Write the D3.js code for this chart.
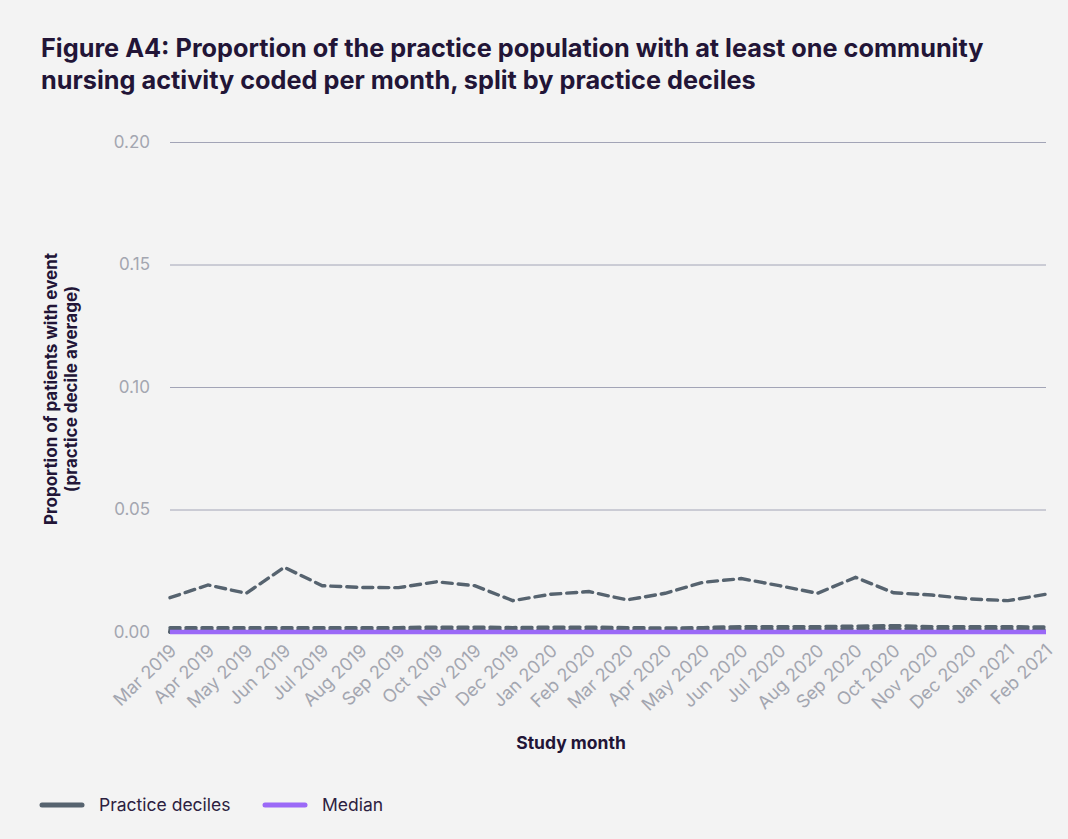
<!DOCTYPE html>
<html>
<head>
<meta charset="utf-8">
<script src="https://cdn.jsdelivr.net/npm/d3@7"></script>
<style>
  html, body { margin: 0; padding: 0; background: #f3f3f3; }
  svg { display: block; }
</style>
</head>
<body>
<svg id="chart" width="1068" height="839"></svg>
<script>
const months = ["Mar 2019","Apr 2019","May 2019","Jun 2019","Jul 2019","Aug 2019","Sep 2019","Oct 2019","Nov 2019","Dec 2019","Jan 2020","Feb 2020","Mar 2020","Apr 2020","May 2020","Jun 2020","Jul 2020","Aug 2020","Sep 2020","Oct 2020","Nov 2020","Dec 2020","Jan 2021","Feb 2021"];
const yTicks = [0, 0.05, 0.10, 0.15, 0.20];
const p90 = [0.0140,0.0192,0.0158,0.0264,0.0189,0.0182,0.0181,0.0205,0.0189,0.0128,0.0154,0.0165,0.0131,0.0158,0.0203,0.0218,0.0189,0.0158,0.0223,0.0160,0.0151,0.0135,0.0128,0.0154];
const p80 = [0.0018,0.0018,0.0018,0.0018,0.0018,0.0018,0.0018,0.0020,0.0020,0.0018,0.0020,0.0020,0.0018,0.0016,0.0018,0.0022,0.0022,0.0022,0.0024,0.0026,0.0022,0.0022,0.0022,0.0020];
const p70 = [0.0010,0.0010,0.0010,0.0010,0.0010,0.0010,0.0010,0.0010,0.0010,0.0010,0.0010,0.0010,0.0010,0.0008,0.0010,0.0012,0.0012,0.0012,0.0014,0.0014,0.0012,0.0012,0.0012,0.0010];
const p60 = [0.0004,0.0004,0.0004,0.0004,0.0004,0.0004,0.0004,0.0004,0.0004,0.0004,0.0004,0.0004,0.0004,0.0004,0.0004,0.0004,0.0004,0.0004,0.0004,0.0004,0.0004,0.0004,0.0004,0.0004];
const pLow = [0,0,0,0,0,0,0,0,0,0,0,0,0,0,0,0,0,0,0,0,0,0,0,0];
const median = [0,0,0,0,0,0,0,0,0,0,0,0,0,0,0,0,0,0,0,0,0,0,0,0];
const deciles = [pLow, pLow, pLow, pLow, p60, p70, p80, p90];
const titleLines = ["Figure A4: Proportion of the practice population with at least one community",
                    "nursing activity coded per month, split by practice deciles"];

const svg = d3.select("#chart");
const mLeft = 170, mRight = 1046, mTop = 142, mBottom = 632;
const x = d3.scalePoint().domain(months).range([mLeft, mRight]);
const y = d3.scaleLinear().domain([0, 0.20]).range([mBottom, mTop]);

const titleColor = "#221537";
const tickColor = "#a3a6b0";

// Title (font size fitted so the first line spans the reference width)
const tg = svg.append("g").attr("font-family", "Inter, sans-serif").attr("font-weight", 700)
  .attr("fill", titleColor);
const t1 = tg.append("text").attr("x", 41).attr("y", 57).attr("font-size", 22).text(titleLines[0]);
const w = t1.node().getComputedTextLength();
const fs = Math.min(26, 22 * 943 / w);
t1.attr("font-size", fs);
tg.append("text").attr("x", 41).attr("y", 89).attr("font-size", fs).text(titleLines[1]);

// Y axis grid + labels
const yAxis = d3.axisLeft(y).tickValues(yTicks).tickFormat(d3.format(".2f"))
  .tickSize(-(mRight - mLeft)).tickPadding(20);
const gy = svg.append("g").attr("transform", `translate(${mLeft},0)`).call(yAxis);
gy.select(".domain").remove();
gy.selectAll(".tick line").attr("stroke", "#a2a4b6").attr("stroke-width", 1);
gy.selectAll(".tick text").attr("font-family", "Inter, sans-serif")
  .attr("font-size", 17).attr("fill", tickColor);

// X axis labels
const xAxis = d3.axisBottom(x).tickSize(0).tickPadding(0);
const gx = svg.append("g").attr("transform", `translate(0,${mBottom})`).call(xAxis);
gx.select(".domain").remove();
gx.selectAll(".tick text")
  .attr("font-family", "Inter, sans-serif").attr("font-size", 18).attr("fill", tickColor)
  .attr("text-anchor", "end").attr("dy", 0)
  .attr("transform", "translate(7,20) rotate(-44)");

// Axis titles
const yt = svg.append("text")
  .attr("transform", `translate(57,389) rotate(-90)`)
  .attr("text-anchor", "middle")
  .attr("font-family", "Inter, sans-serif").attr("font-weight", 700)
  .attr("font-size", 17).attr("fill", titleColor);
yt.append("tspan").attr("x", 0).attr("dy", 0).text("Proportion of patients with event");
yt.append("tspan").attr("x", 0).attr("dy", 20).text("(practice decile average)");

svg.append("text").attr("x", 571).attr("y", 749).attr("text-anchor", "middle")
  .attr("font-family", "Inter, sans-serif").attr("font-weight", 700)
  .attr("font-size", 17.5).attr("fill", titleColor).text("Study month");

// Lines
const line = d3.line().x((d, i) => x(months[i])).y(d => y(d));
const decileColor = "#56636f";
const medianColor = "#9b69f7";

svg.append("g").selectAll("path").data(deciles).join("path")
  .attr("d", d => line(d)).attr("fill", "none")
  .attr("stroke", decileColor).attr("stroke-width", 3.4)
  .attr("stroke-dasharray", "10,6").attr("stroke-linecap", "round");

svg.append("path").attr("d", line(median)).attr("fill", "none")
  .attr("stroke", medianColor).attr("stroke-width", 4.5);

// Legend
const legend = [["Practice deciles", decileColor, 40], ["Median", medianColor, 263]];
legend.forEach(([label, color, lx]) => {
  svg.append("line").attr("x1", lx + 2).attr("x2", lx + 42).attr("y1", 805).attr("y2", 805)
    .attr("stroke", color).attr("stroke-width", 5).attr("stroke-linecap", "round");
  svg.append("text").attr("x", lx + 59).attr("y", 811)
    .attr("font-family", "Inter, sans-serif").attr("font-size", 17.5)
    .attr("fill", "#2c2140").text(label);
});
</script>
</body>
</html>
